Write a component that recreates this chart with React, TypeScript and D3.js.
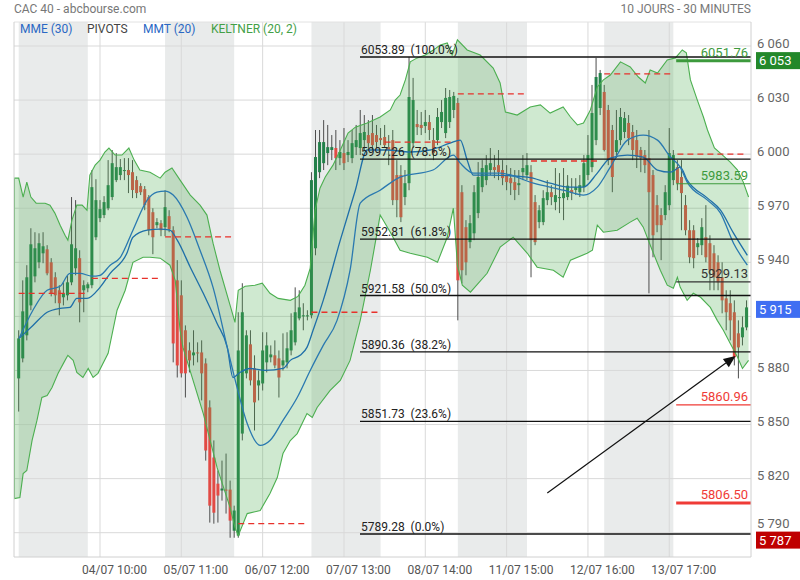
import React from "react";
import * as d3 from "d3";

// ---------- DATA ----------
const dayLabels = ["01/07", "04/07", "05/07", "06/07", "07/07", "08/07", "11/07", "12/07", "13/07", "14/07"];
const candlesPerDay = 18;

// [open, high, low, close]
const day0 = [
  [5875.6, 5902.3, 5857.2, 5897.8], [5886.7, 5930.0, 5884.5, 5912.8], [5899.5, 5938.4, 5896.7, 5931.7],
  [5916.1, 5958.9, 5913.4, 5950.0], [5932.2, 5956.7, 5928.9, 5947.8], [5940.0, 5956.1, 5936.7, 5950.6],
  [5945.0, 5956.7, 5939.5, 5948.9], [5947.2, 5949.5, 5932.8, 5933.9], [5940.0, 5942.3, 5921.1, 5922.8],
  [5931.7, 5934.5, 5917.3, 5921.7], [5924.5, 5927.3, 5910.6, 5917.3], [5920.6, 5928.9, 5916.1, 5922.8],
  [5921.7, 5932.8, 5918.9, 5928.9], [5928.9, 5976.2, 5927.3, 5950.0], [5936.7, 5974.5, 5932.8, 5947.8],
  [5942.3, 5946.7, 5906.7, 5917.8], [5924.5, 5930.0, 5912.3, 5927.3], [5925.6, 5928.9, 5923.4, 5927.8],
];
const day1 = [
  [5927.3, 5991.1, 5925.6, 5981.7], [5953.9, 5986.1, 5952.3, 5974.5], [5964.5, 5974.5, 5962.3, 5969.5],
  [5966.2, 5976.7, 5964.5, 5973.4], [5970.0, 5996.7, 5968.9, 5982.8], [5976.2, 6002.3, 5974.5, 5995.0],
  [5985.6, 6000.6, 5984.5, 5992.8], [5988.4, 5997.3, 5985.6, 5992.8], [5990.6, 5997.8, 5985.6, 5991.2],
  [5991.2, 5997.8, 5978.4, 5988.4], [5990.0, 5996.7, 5975.6, 5980.1], [5985.6, 5987.8, 5975.6, 5978.4],
  [5982.3, 5983.9, 5977.3, 5978.9], [5980.6, 5982.3, 5968.9, 5971.7], [5976.2, 5977.3, 5955.0, 5957.8],
  [5967.8, 5970.0, 5944.5, 5953.9], [5960.6, 5964.5, 5958.9, 5962.3], [5961.7, 5963.4, 5954.5, 5957.8],
];
const day2 = [
  [5959.5, 5980.0, 5954.5, 5970.6], [5965.6, 5968.9, 5956.7, 5958.4], [5957.8, 5960.0, 5884.5, 5895.0],
  [5930.0, 5941.2, 5876.1, 5882.8], [5921.7, 5930.0, 5876.1, 5878.4], [5902.3, 5905.0, 5865.0, 5878.4],
  [5891.1, 5895.6, 5878.9, 5885.6], [5888.4, 5902.3, 5882.8, 5890.0], [5890.0, 5895.6, 5884.5, 5889.5],
  [5890.0, 5896.7, 5863.4, 5878.4], [5883.9, 5886.7, 5830.0, 5835.6], [5859.5, 5863.4, 5795.6, 5805.0],
  [5831.7, 5841.2, 5795.0, 5801.1], [5817.2, 5824.5, 5795.6, 5810.6], [5813.4, 5830.0, 5807.8, 5814.5],
  [5813.9, 5833.9, 5800.6, 5813.4], [5813.9, 5818.9, 5787.2, 5796.7], [5791.1, 5805.0, 5787.2, 5802.3],
];
const day3 = [
  [5788.4, 5912.3, 5787.2, 5891.1], [5845.0, 5928.4, 5841.2, 5912.3], [5878.4, 5902.3, 5875.6, 5899.5],
  [5894.5, 5902.3, 5871.7, 5874.5], [5881.2, 5888.4, 5846.7, 5862.3], [5871.7, 5880.0, 5863.4, 5874.5],
  [5872.8, 5901.2, 5868.9, 5891.1], [5884.5, 5901.2, 5878.9, 5893.9], [5887.3, 5893.9, 5884.5, 5888.9],
  [5888.4, 5896.7, 5881.2, 5882.8], [5886.7, 5891.1, 5865.0, 5876.1], [5882.8, 5900.6, 5880.0, 5885.6],
  [5884.5, 5901.2, 5881.2, 5892.3], [5891.1, 5911.7, 5888.4, 5902.3], [5895.6, 5926.1, 5893.9, 5912.3],
  [5908.9, 5924.5, 5907.8, 5915.0], [5910.0, 5917.3, 5902.3, 5910.6], [5910.0, 5913.4, 5907.8, 5910.6],
];
const day4 = [
  [5910.6, 5990.0, 5908.9, 5985.6], [5947.8, 6013.4, 5943.9, 5998.4], [5990.0, 6013.4, 5986.7, 6006.7],
  [5995.0, 6018.9, 5991.2, 6006.7], [6000.6, 6016.2, 5993.9, 6003.9], [6002.3, 6010.6, 5996.7, 6003.9],
  [6003.4, 6013.4, 5991.2, 5997.8], [5997.8, 6007.8, 5993.9, 6001.2], [6000.6, 6014.5, 5991.2, 5995.0],
  [5999.5, 6007.8, 5995.6, 6001.2], [5997.8, 6013.4, 5995.0, 6006.1], [6003.9, 6016.2, 5999.5, 6007.8],
  [6003.4, 6024.5, 5999.5, 6011.7], [6007.8, 6021.7, 6002.3, 6012.3], [6010.6, 6018.9, 6002.3, 6006.1],
  [6011.7, 6021.7, 6002.3, 6005.0], [6010.6, 6016.2, 6003.4, 6006.7], [6008.9, 6014.5, 6005.0, 6007.8],
];
const day5 = [
  [6009.5, 6016.2, 6003.4, 6005.0], [6003.9, 6010.6, 5993.9, 6002.3], [6007.8, 6013.4, 5971.7, 5974.5],
  [5988.4, 5996.7, 5965.0, 5974.5], [5988.4, 5993.9, 5962.3, 5965.0], [5976.2, 5991.2, 5971.7, 5983.9],
  [5983.9, 6053.9, 5980.0, 6031.7], [6006.1, 6042.3, 6003.4, 6030.0], [6016.7, 6024.5, 6010.6, 6015.0],
  [6016.2, 6023.4, 6010.6, 6014.5], [6015.6, 6024.5, 6011.7, 6017.8], [6017.8, 6021.7, 6007.8, 6013.4],
  [6007.8, 6014.5, 5996.7, 6000.6], [6007.8, 6025.6, 6005.0, 6020.6], [6017.8, 6030.0, 6014.5, 6023.4],
  [6011.7, 6036.7, 6008.9, 6031.2], [6017.8, 6035.6, 6014.5, 6031.7], [6024.5, 6034.5, 6020.0, 6032.3],
];
const day6 = [
  [6028.4, 6031.2, 5907.8, 5930.0], [5978.9, 5982.8, 5928.4, 5935.6], [5959.5, 5963.4, 5932.8, 5940.0],
  [5951.2, 5966.2, 5947.8, 5961.7], [5956.1, 5982.8, 5952.3, 5978.9], [5967.3, 5995.6, 5964.5, 5987.3],
  [5981.7, 5996.7, 5978.9, 5992.3], [5985.6, 5999.5, 5982.8, 5993.9], [5991.2, 6003.4, 5988.4, 5995.0],
  [5992.8, 5999.5, 5986.7, 5991.2], [5993.9, 6002.3, 5985.6, 5990.0], [5991.2, 5996.7, 5982.8, 5986.7],
  [5988.4, 5993.9, 5980.0, 5984.5], [5986.7, 5992.3, 5977.3, 5983.9], [5984.5, 5991.2, 5974.5, 5980.1],
  [5982.8, 5991.2, 5977.3, 5983.9], [5990.0, 5999.5, 5985.6, 5992.3], [5988.4, 6000.6, 5985.6, 5993.9],
];
const day7 = [
  [5990.0, 5993.9, 5931.7, 5952.3], [5973.4, 5977.3, 5949.5, 5951.2], [5962.3, 5971.7, 5958.9, 5968.9],
  [5962.3, 5980.0, 5960.6, 5975.6], [5974.5, 5985.6, 5971.7, 5978.9], [5978.9, 5982.8, 5971.7, 5976.2],
  [5973.4, 5992.3, 5968.9, 5977.3], [5975.6, 5989.5, 5967.3, 5976.2], [5975.6, 5992.3, 5963.4, 5978.4],
  [5976.2, 5988.4, 5974.5, 5982.5], [5980.1, 5986.7, 5974.5, 5978.4], [5980.1, 5986.7, 5977.3, 5981.7],
  [5978.9, 5988.4, 5976.2, 5982.8], [5981.7, 5999.5, 5978.9, 5995.0], [5988.4, 6010.6, 5985.6, 5999.5],
  [5992.8, 6038.4, 5990.0, 6022.8], [6007.8, 6053.4, 6005.0, 6042.8], [6025.6, 6046.7, 6021.7, 6045.0],
];
const day8 = [
  [6034.5, 6038.4, 6001.5, 6002.3], [6024.5, 6027.3, 5993.9, 5996.7], [6013.4, 6016.2, 5978.9, 5987.3],
  [6001.2, 6024.5, 5997.8, 6007.8], [6007.8, 6025.6, 6005.0, 6020.6], [6012.3, 6023.4, 6008.9, 6020.0],
  [6017.3, 6021.7, 6005.0, 6008.9], [6012.3, 6016.2, 5996.7, 6002.3], [6007.8, 6013.4, 5992.3, 5998.4],
  [6002.3, 6004.0, 5990.0, 5997.8], [5999.5, 6002.3, 5989.5, 5993.9], [5997.8, 6013.4, 5922.8, 5978.9],
  [5988.4, 5991.2, 5942.8, 5955.0], [5971.7, 5977.3, 5956.7, 5960.6], [5966.2, 5970.0, 5941.2, 5960.6],
  [5966.2, 5982.8, 5963.4, 5978.9], [5971.7, 6014.5, 5968.9, 6000.6], [5985.6, 6002.3, 5982.8, 5999.5],
];
const day9 = [
  [5992.8, 5996.7, 5980.0, 5983.9], [5987.3, 5996.7, 5957.8, 5978.4], [5971.7, 5977.3, 5955.0, 5957.8],
  [5957.8, 5963.4, 5939.5, 5942.8], [5957.8, 5960.6, 5936.7, 5942.3], [5948.4, 5953.4, 5944.0, 5950.6],
  [5949.5, 5964.5, 5944.0, 5959.5], [5953.9, 5971.7, 5940.0, 5942.8], [5950.6, 5955.0, 5924.5, 5935.6],
  [5945.0, 5949.5, 5924.5, 5931.7], [5940.0, 5943.9, 5924.5, 5928.9], [5931.7, 5940.0, 5911.7, 5918.9],
  [5920.0, 5924.5, 5902.3, 5912.3], [5917.3, 5924.5, 5896.7, 5907.8], [5912.3, 5918.9, 5882.8, 5887.3],
  [5900.6, 5907.8, 5875.6, 5892.8], [5898.4, 5910.0, 5893.9, 5903.9], [5903.9, 5918.9, 5902.3, 5915.0],
];
const candles = [...day0, ...day1, ...day2, ...day3, ...day4, ...day5, ...day6, ...day7, ...day8, ...day9];

// Keltner (20, 2) band edges: [candle index, price]
const keltnerUpper = [
  [-1.15, 5986.7], [0, 5986.7], [1.1, 5976.2], [2, 5984.5], [3, 5976.2], [4.3, 5972.8], [6.5, 5972.8], [7.7, 5971.7],
  [8.9, 5967.3], [10.2, 5960.6], [11.4, 5955.0], [12.1, 5952.3], [13.1, 5963.4], [14.3, 5971.7], [15.6, 5971.7],
  [16.8, 5968.9], [17.5, 5988.4], [18.8, 5993.9], [20, 5996.7], [21.2, 6001.2], [22.2, 6003.4], [23.7, 5999.5],
  [25.4, 5999.5], [27.1, 6003.4], [28.4, 5996.7], [29.8, 5991.2], [32.3, 5990.0], [34.8, 5986.7], [36, 5990.0],
  [37.7, 5992.3], [39.7, 5985.6], [42.2, 5977.3], [44.6, 5971.7], [46.3, 5966.2], [47.8, 5950.6], [49.5, 5935.6],
  [52, 5916.1], [53.2, 5906.7], [54, 5924.5], [55.7, 5926.7], [58.1, 5927.3], [59.9, 5928.4], [61.8, 5922.8],
  [63.8, 5920.0], [66.8, 5918.9], [68.7, 5921.1], [70.4, 5927.3], [71.7, 5936.7], [72.9, 5968.9], [74.1, 5981.1],
  [75.4, 5987.3], [77.3, 5993.9], [79.1, 6002.3], [81, 6011.7], [82.8, 6015.0], [85.7, 6017.3], [88.9, 6020.6],
  [91.4, 6024.5], [92.6, 6030.0], [93.8, 6032.8], [95.1, 6041.2], [96.3, 6051.2], [98, 6053.4], [100, 6055.0],
  [102, 6057.8], [103.7, 6060.6], [105.4, 6061.7], [106.6, 6055.0], [107.9, 6063.4], [110.3, 6057.8], [113.5, 6055.0],
  [116.7, 6047.8], [118.4, 6039.5], [119.7, 6023.4], [122.6, 6021.7], [125.8, 6026.2], [128.3, 6027.3], [130.7, 6022.8],
  [133.9, 6026.2], [135.7, 6020.6], [137.4, 6016.2], [138.9, 6017.3], [140.6, 6024.5], [142.3, 6037.3], [143.8, 6041.2],
  [145.5, 6043.9], [148, 6051.2], [150.4, 6048.4], [152.4, 6042.8], [154.1, 6039.5], [155.3, 6046.7], [157.1, 6045.0],
  [159.5, 6052.3], [161.5, 6053.4], [163.2, 6057.8], [164.2, 6056.2], [165.2, 6041.2], [166.9, 6030.0], [168.4, 6020.6],
  [169.4, 6013.4], [171.1, 6003.4], [173.1, 5999.5], [175, 5995.6], [176.8, 5991.2], [178.2, 5984.5], [179.5, 5976.2],
];
const keltnerLower = [
  [-1.15, 5808.9], [0.3, 5809.5], [1.1, 5822.8], [2, 5824.5], [3.3, 5841.2], [4.5, 5852.3], [5.7, 5865.0], [7, 5866.1],
  [8.2, 5870.6], [9.7, 5878.4], [11.4, 5885.6], [12.1, 5888.4], [13.4, 5885.6], [14.3, 5878.9], [15.8, 5876.1],
  [17.1, 5881.1], [18.3, 5876.1], [19.5, 5878.4], [22, 5889.5], [24.2, 5913.4], [26.2, 5924.5], [28.1, 5940.0],
  [30.6, 5942.8], [32.3, 5942.8], [34.8, 5942.3], [37.2, 5938.4], [38.5, 5930.0], [39.7, 5902.3], [40.4, 5892.8],
  [45.4, 5856.1], [48.8, 5826.1], [52, 5803.9], [53.2, 5792.8], [54, 5788.4], [56.2, 5800.6], [59.4, 5802.3],
  [61.8, 5811.7], [63.6, 5820.6], [65, 5833.9], [66.8, 5841.1], [68.5, 5845.0], [70.9, 5856.1], [72.2, 5853.9],
  [73.4, 5859.5], [76.6, 5868.9], [79.1, 5874.5], [81.5, 5885.6], [84, 5907.8], [86.5, 5935.6], [88.9, 5966.2],
  [91.4, 5956.7], [93.8, 5946.7], [96.3, 5945.0], [100.5, 5942.8], [103, 5940.0], [105.4, 5953.9], [106.9, 5970.0],
  [107.9, 5938.4], [109.1, 5927.3], [111.1, 5923.4], [115.2, 5933.9], [118.4, 5948.4], [121.6, 5953.9], [125.1, 5945.0],
  [127.5, 5937.3], [131.5, 5935.6], [133.9, 5931.7], [135.7, 5941.2], [139.8, 5945.0], [141.1, 5946.7], [142.3, 5960.6],
  [143.8, 5956.7], [147.2, 5957.8], [150.4, 5962.3], [152.1, 5964.5], [153.6, 5959.5], [156.1, 5945.0], [157.8, 5935.6],
  [159.5, 5927.3], [161, 5925.6], [162, 5931.7], [162.7, 5926.1], [164.4, 5918.9], [165.9, 5922.8], [167.7, 5920.6],
  [170.1, 5915.0], [171.8, 5907.8], [173.3, 5902.3], [175, 5895.0], [176.8, 5887.3], [178, 5881.1], [179.5, 5885.6],
];
// MME (30)
const mme30 = [
  [0.1, 5897.8], [3.5, 5905.0], [7, 5912.3], [10.2, 5914.5], [12.6, 5915.0], [14.3, 5920.0], [16.8, 5920.0],
  [20, 5926.1], [22.5, 5933.9], [26.6, 5945.0], [28.1, 5953.9], [31.6, 5957.8], [34.8, 5958.4], [37.2, 5957.8],
  [39, 5952.3], [42.2, 5937.3], [45.4, 5922.8], [48.8, 5906.1], [51.3, 5892.8], [52.7, 5876.1], [54.4, 5878.9],
  [56.9, 5881.1], [60.6, 5880.0], [65, 5881.1], [66.8, 5885.6], [69.2, 5888.4], [70.9, 5892.8], [72.4, 5902.3],
  [74.9, 5918.9], [79.1, 5952.3], [82.8, 5980.0], [85.7, 6002.3], [90.6, 6002.3], [96.3, 6001.2], [101.2, 6002.3],
  [106.1, 6006.1], [108.6, 6007.8], [110.3, 5996.7], [111.8, 5988.4], [116, 5988.4], [125.1, 5987.3], [130.7, 5983.9],
  [135.7, 5981.7], [138.9, 5981.7], [142.3, 5989.5], [145.5, 5997.8], [149.7, 5999.5], [153.6, 5998.4], [157.1, 5991.2],
  [160.3, 5990.0], [162.7, 5992.8], [164.4, 5985.6], [169.4, 5975.6], [172.6, 5968.9], [175.8, 5956.2], [179.2, 5943.9],
];
// MMT (20)
const mmt20 = [
  [0.1, 5897.8], [3.5, 5913.4], [7, 5924.5], [10.2, 5926.7], [12.6, 5933.9], [15.1, 5933.9], [18, 5932.3],
  [20, 5932.8], [22.5, 5938.4], [25, 5942.8], [28.1, 5957.8], [31.6, 5974.5], [34, 5978.9], [36, 5979.5],
  [38, 5977.3], [41.4, 5965.0], [44.6, 5946.7], [47.8, 5926.1], [51.3, 5892.8], [53.7, 5870.6], [56.2, 5850.6],
  [59.4, 5838.4], [61.8, 5841.1], [65, 5852.3], [68.5, 5865.0], [71.7, 5880.0], [74.9, 5893.9], [78.3, 5907.8],
  [81.5, 5935.6], [84, 5972.8], [88.9, 5980.0], [93.8, 5987.3], [101.9, 5991.2], [106.9, 5999.5], [108.6, 5995.0],
  [111.8, 5989.5], [118.4, 5989.5], [126.6, 5983.9], [134, 5980.0], [138.9, 5977.3], [142.3, 5981.7], [145.5, 5992.8],
  [149.7, 6007.8], [153.6, 6010.6], [157.1, 6007.8], [160.3, 5998.4], [162.7, 5992.8], [164.4, 5984.5], [169.4, 5974.5],
  [172.6, 5967.3], [175.8, 5950.6], [179.2, 5938.4],
];

// Daily pivots (dashed red), one per day
const dailyPivot = [5922.8, 5931.1, 5954.1, 5795.0, 5912.3, 6006.7, 6033.4, 5996.2, 6044.5, 6000.0];

// Fibonacci retracement
const fibValues = [6053.89, 5997.26, 5952.81, 5921.58, 5890.36, 5851.73, 5789.28];
const fibPercents = ["100.0%", "78.6%", "61.8%", "50.0%", "38.2%", "23.6%", "0.0%"];

// Current-day pivot levels
const levelValues = [6051.76, 5983.59, 5929.13, 5860.96, 5806.5];
const levelKinds = ["R2", "R1", "P", "S1", "S2"];

// Axes
const yTicks = [5790, 5820, 5850, 5880, 5910, 5940, 5970, 6000, 6030, 6060];
const xTickIndex = [20, 40, 60, 80, 100, 120, 140, 160];
const xTickLabels = ["04/07 10:00", "05/07 11:00", "06/07 12:00", "07/07 13:00", "08/07 14:00", "11/07 15:00", "12/07 16:00", "13/07 17:00"];

// Price tags on the axis
const highTag = 6053;
const lastTag = 5915;
const lowTag = 5787;

// Arrow annotation: [index, price] from -> to
const arrowFrom = [130, 5812];
const arrowTo = [176.3, 5888];

// ---------- LAYOUT ----------
const L = 14, R = 751, T = 22, B = 557;
const FONT = "Roboto, 'Noto Sans', Arial, sans-serif";

const x = d3.scaleLinear().domain([-1.15, 180.1]).range([L, R]);
const y = d3.scaleLinear().domain([5790, 6060]).range([532.7, 46]);

const fmtSpace = (v: number) => {
  const s = String(Math.round(v));
  return s.slice(0, s.length - 3) + " " + s.slice(-3);
};

const UP = "#23804a";
const DOWN = "#e24a44";

export default function App() {
  const line = d3.line<number[]>().x((d) => x(d[0])).y((d) => y(d[1]));
  const smooth = d3.line<number[]>().x((d) => x(d[0])).y((d) => y(d[1])).curve(d3.curveMonotoneX);
  const bandPts = [...keltnerUpper, ...keltnerLower.slice().reverse()];
  const bandPath = line(bandPts as any) + "Z";

  const levelColor = (k: string) =>
    k.startsWith("R") ? "#3d9a3d" : k.startsWith("S") ? "#ef3b36" : "#333";
  const levelWidth = (k: string) => (k === "R2" || k === "S2" ? 3 : 1.2);
  const levelStart = x(9 * candlesPerDay - 0.3);

  // tick label fully hidden behind the "last" tag in the original
  const lastY = y(lastTag) + 2;
  const lowY = y(lowTag) + 2;
  const visibleTicks = yTicks.filter((t) => Math.abs(y(t) - lastY) > 10);

  // arrow geometry
  const ax1 = x(arrowFrom[0]), ay1 = y(arrowFrom[1]);
  const ax2 = x(arrowTo[0]), ay2 = y(arrowTo[1]);
  const ang = Math.atan2(ay2 - ay1, ax2 - ax1);
  const ah = 12, aw = 5;
  const bx = ax2 - ah * Math.cos(ang), by = ay2 - ah * Math.sin(ang);
  const head = `M${ax2},${ay2}L${bx + aw * Math.sin(ang)},${by - aw * Math.cos(ang)}L${bx - aw * Math.sin(ang)},${by + aw * Math.cos(ang)}Z`;

  return (
    <svg width={800} height={580} style={{ position: "absolute", left: 0, top: 0, background: "#fff" }} fontFamily={FONT}>
      <defs>
        <clipPath id="plot">
          <rect x={L} y={T} width={R - L} height={B - T} />
        </clipPath>
      </defs>

      {/* alternating day bands */}
      {dayLabels.map((d, i) =>
        i % 2 === 0 ? (
          <rect key={d} x={x(i * candlesPerDay)} y={T} width={x(i * candlesPerDay + 17) - x(i * candlesPerDay)} height={B - T} fill="#e9ebeb" />
        ) : null
      )}

      {/* grid */}
      {yTicks.map((t) => (
        <line key={t} x1={L} x2={R} y1={y(t)} y2={y(t)} stroke="#d9d9d9" strokeWidth={1} />
      ))}
      {xTickIndex.map((t) => (
        <line key={t} x1={x(t)} x2={x(t)} y1={T} y2={B} stroke="#d9d9d9" strokeWidth={1} />
      ))}

      <g clipPath="url(#plot)">
        {/* candles */}
        {candles.map((c, i) => {
          const [o, h, l, cl] = c;
          const cx = x(i);
          const up = cl >= o;
          const top = y(Math.max(o, cl));
          const bh = Math.max(1, Math.abs(y(o) - y(cl)));
          return (
            <g key={i}>
              <line x1={cx} x2={cx} y1={y(h)} y2={y(l)} stroke="#4d4d4d" strokeWidth={1} />
              <rect x={cx - 1.5} y={top} width={3} height={bh} fill={up ? UP : DOWN} />
            </g>
          );
        })}

        {/* keltner */}
        <path d={bandPath} fill="rgba(76,175,80,0.27)" stroke="none" />
        <path d={line(keltnerUpper as any) || ""} fill="none" stroke="#4caf50" strokeWidth={1.1} />
        <path d={line(keltnerLower as any) || ""} fill="none" stroke="#4caf50" strokeWidth={1.1} />
        <line x1={x(keltnerUpper[0][0])} x2={x(keltnerLower[0][0])} y1={y(keltnerUpper[0][1])} y2={y(keltnerLower[0][1])} stroke="#4caf50" strokeWidth={2} />

        {/* moving averages */}
        <path d={smooth(mme30 as any) || ""} fill="none" stroke="#1f6fa8" strokeWidth={1.3} />
        <path d={smooth(mmt20 as any) || ""} fill="none" stroke="#2a79b0" strokeWidth={1.3} />

        {/* daily pivots */}
        {dailyPivot.map((p, i) => (
          <line key={i} x1={x(i * candlesPerDay)} x2={x(i * candlesPerDay + 17)} y1={y(p)} y2={y(p)} stroke="#e8312b" strokeWidth={1.3} strokeDasharray="6,4" />
        ))}

        {/* fibonacci */}
        {fibValues.map((v) => (
          <line key={v} x1={360} x2={R} y1={y(v)} y2={y(v)} stroke="#111" strokeWidth={1.3} />
        ))}

        {/* pivot levels of the current day */}
        {levelValues.map((v, i) => (
          <line key={v} x1={levelStart} x2={R} y1={y(v)} y2={y(v)} stroke={levelColor(levelKinds[i])} strokeWidth={levelWidth(levelKinds[i])} />
        ))}

        {/* arrow */}
        <line x1={ax1} y1={ay1} x2={bx} y2={by} stroke="#111" strokeWidth={1.2} />
        <path d={head} fill="#111" />
      </g>

      {/* fib labels */}
      {fibValues.map((v, i) => (
        <text key={v} x={361} y={y(v) - 3} fontSize={12} fill="#222">
          {v.toFixed(2)}{"\u00a0\u00a0"}({fibPercents[i]})
        </text>
      ))}
      {/* level labels */}
      {levelValues.map((v, i) => (
        <text key={v} x={748} y={y(v) - 3.5} fontSize={13} textAnchor="end" fill={levelColor(levelKinds[i])}>
          {v.toFixed(2)}
        </text>
      ))}

      {/* borders */}
      <line x1={L} x2={R} y1={B} y2={B} stroke="#d0d0d0" />
      <line x1={L} x2={R} y1={T} y2={T} stroke="#e2e2e2" />
      <line x1={L} x2={L} y1={T} y2={B} stroke="#d0d0d0" />
      <line x1={R} x2={R} y1={T} y2={B} stroke="#d0d0d0" />

      {/* y axis labels (a label squeezed by the low tag sits just above it) */}
      {visibleTicks.map((t) => {
        const base = y(t) + 1.5;
        const yy = Math.min(base, lowY - 8.5 - 3.2);
        return (
          <text key={t} x={757} y={yy} fontSize={13} fill="#666">
            {fmtSpace(t)}
          </text>
        );
      })}
      {/* tags */}
      <rect x={756} y={y(highTag) + 2 - 8.5} width={44} height={17} fill="#23882a" />
      <text x={759} y={y(highTag) + 2 + 4.5} fontSize={13} fill="#fff">{fmtSpace(highTag)}</text>
      <rect x={756} y={lastY - 8.5} width={44} height={17} fill="#3f6ef2" />
      <text x={759} y={lastY + 4.5} fontSize={13} fill="#fff">{fmtSpace(lastTag)}</text>
      <rect x={756} y={lowY - 8.5} width={44} height={17} fill="#bf0000" />
      <text x={759} y={lowY + 4.5} fontSize={13} fill="#fff">{fmtSpace(lowTag)}</text>

      {/* x axis labels */}
      {xTickIndex.map((t, i) => (
        <text key={t} x={x(t) + 14.5} y={573.5} fontSize={12} fill="#555" textAnchor="middle">
          {xTickLabels[i]}
        </text>
      ))}

      {/* header */}
      <text x={14} y={13} fontSize={12} fill="#777">CAC 40 - abcbourse.com</text>
      <text x={751} y={13} fontSize={12} fill="#777" textAnchor="end">10 JOURS - 30 MINUTES</text>

      {/* legend */}
      <text y={33} fontSize={12}>
        <tspan x={20} fill="#2a68c4">MME (30)</tspan>
        <tspan x={87} fill="#444">PIVOTS</tspan>
        <tspan x={143} fill="#2a68c4">MMT (20)</tspan>
        <tspan x={211} fill="#43a047">KELTNER (20, 2)</tspan>
      </text>
    </svg>
  );
}
